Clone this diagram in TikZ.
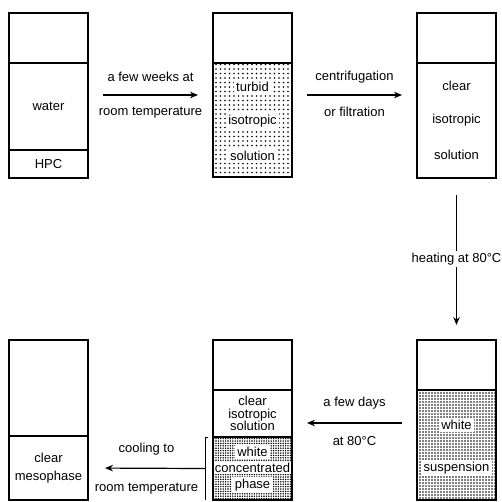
\documentclass[tikz,border=0pt]{standalone}
\usepackage{fontspec}
\setmainfont{Liberation Sans}
\usepackage{tikz}
\usetikzlibrary{arrows.meta, positioning, calc, patterns.meta}
\newcommand\tubefont{\fontsize{13}{12.5}\selectfont}
\tikzset{
  vessel/.style={draw, line width=1.3pt, minimum width=79pt, inner sep=0pt, outer sep=0pt, align=center},
  headnode/.style={vessel, minimum height=50pt},
  sparsefill/.style={pattern={Dots[distance=4.5pt, radius=.85pt]}},
  densefill/.style={pattern={Dots[distance=3pt, radius=.8pt]}},
  packedfill/.style={pattern={Dots[distance=2.4pt, radius=.8pt]}},
  tagnode/.style={fill=white, inner xsep=2.5pt, inner ysep=2pt},
  flowarrow/.style={-{Stealth[length=8pt, width=6.5pt]}, line width=1.2pt},
}
\begin{document}
\begin{tikzpicture}[x=1pt, y=-1pt, node distance=125pt, font=\tubefont]
  \useasboundingbox (0,0) rectangle (502,501);
  \node[headnode] (v1) at (48.5,38) {};
  \node[vessel, minimum height=87pt, below=0pt of v1] (v1w) {water};
  \node[vessel, minimum height=28pt, below=0pt of v1w] (v1h) {HPC};

  \node[headnode, right=of v1] (v2) {};
  \node[vessel, sparsefill, minimum height=114pt, below=0pt of v2] (v2b) {};
  \node[tagnode] (t2a) at ([yshift=-24pt]v2b.north) {turbid};
  \node[tagnode] (t2b) at ([yshift=-58pt]v2b.north) {isotropic};
  \node[tagnode] (t2c) at ([yshift=-93pt]v2b.north) {solution};

  \node[headnode, right=of v2] (v3) {};
  \node[vessel, minimum height=115pt, below=0pt of v3] (v3b) {};
  \node[tagnode] (t3a) at ([yshift=-23pt]v3b.north) {clear};
  \node[tagnode] (t3b) at ([yshift=-57pt]v3b.north) {isotropic};
  \node[tagnode] (t3c) at ([yshift=-92pt]v3b.north) {solution};

  \node[headnode, below=162pt of v3b] (v6) {};
  \node[vessel, densefill, minimum height=110pt, below=0pt of v6] (v6b) {};
  \node[tagnode] (t6a) at ([yshift=-35pt]v6b.north) {white};
  \node[tagnode] (t6b) at ([yshift=-78pt]v6b.north) {suspension};

  \node[headnode, left=of v6] (v5) {};
  \node[vessel, minimum height=47pt, below=0pt of v5] (v5b) {clear\\isotropic\\solution};
  \node[vessel, packedfill, minimum height=63pt, below=0pt of v5b] (v5c) {};
  \node[tagnode] (t5a) at ([yshift=-15pt]v5c.north) {white};
  \node[tagnode, inner xsep=1pt, inner ysep=1pt] (t5b) at ([yshift=-31pt]v5c.north) {concentrated};
  \node[tagnode] (t5c) at ([yshift=-48pt]v5c.north) {phase};

  \node[vessel, minimum height=96pt, left=of v5.north west, anchor=north east] (v4) {};
  \node[vessel, minimum height=64pt, below=0pt of v4] (v4b) {clear\\[6pt]mesophase};

  \draw[flowarrow, shorten <=15pt, shorten >=15pt] ([yshift=-32pt]v1.south east) --
    node[yshift=18pt] (l1a) {a few weeks at}
    node[yshift=-18pt] (l1b) {room temperature} ([yshift=-32pt]v2.south west);
  \draw[flowarrow, shorten <=15pt, shorten >=15pt] ([yshift=-32pt]v2.south east) --
    node[yshift=18pt] (l2a) {centrifugation}
    node[yshift=-17pt] (l2b) {or filtration} ([yshift=-32pt]v3.south west);
  \draw[flowarrow, shorten <=17pt, shorten >=15pt] (v3b.south) --
    node[tagnode, inner sep=2pt] (l3) {heating at 80°C} (v6.north);
  \draw[flowarrow, shorten <=15pt, shorten >=15pt] ([yshift=-33pt]v6.south west) --
    node[yshift=20pt] (l4a) {a few days}
    node[yshift=-18pt] (l4b) {at 80°C} ([yshift=-33pt]v5.south east);

  \coordinate (bt) at ([xshift=-8pt]v5c.north west);
  \coordinate (bb) at ([xshift=-8pt]v5c.south west);
  \coordinate (brk) at ([xshift=-8pt]v5c.west);
  \draw[line width=1pt] ([xshift=-5pt]v5c.north west) -- (bt) -- (bb);
  \draw[flowarrow, shorten >=17pt] (brk) --
    node[yshift=19pt] (l5a) {cooling to}
    node[yshift=-20pt] (l5b) {room temperature} (v4b.east);
\end{tikzpicture}
\end{document}
